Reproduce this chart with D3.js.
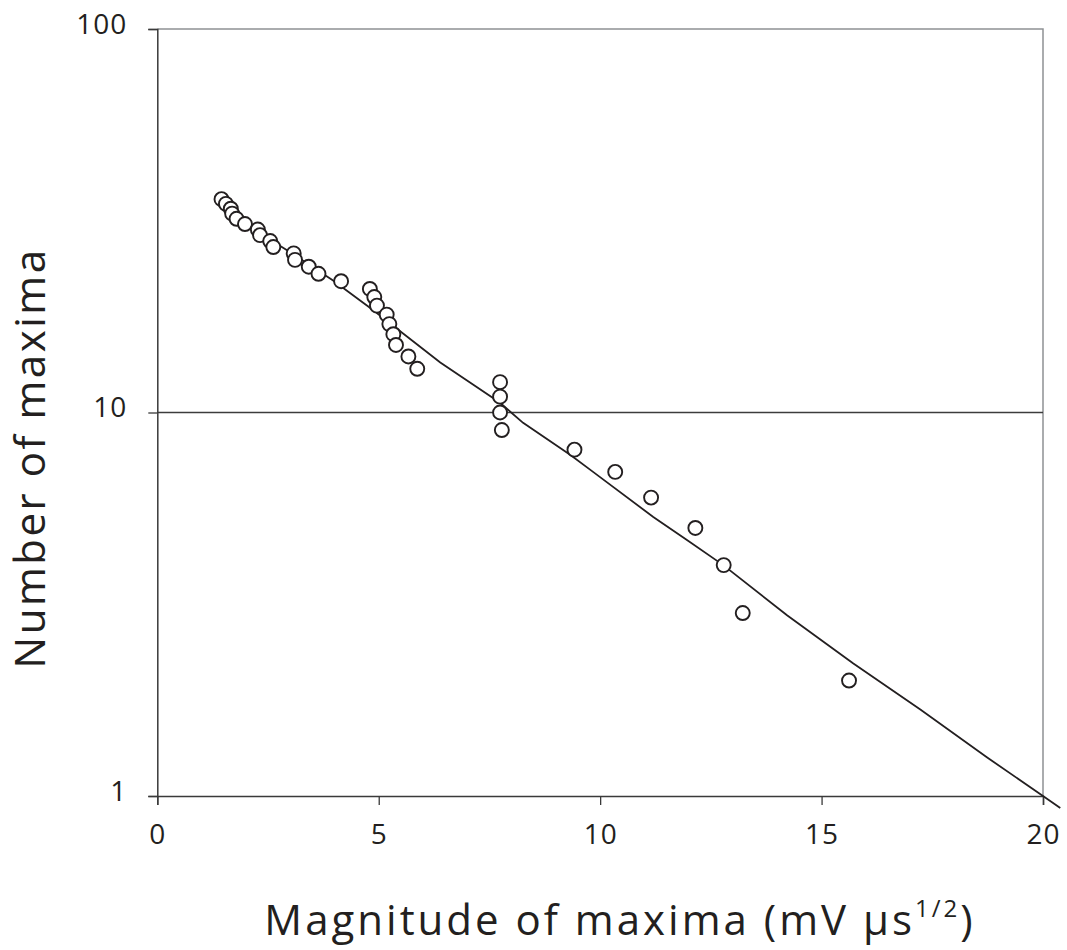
<!DOCTYPE html>
<html>
<head>
<meta charset="utf-8">
<script src="https://cdn.jsdelivr.net/npm/d3@7"></script>
<style>
  html, body { margin: 0; padding: 0; background: #fff; }
  svg { display: block; }
  text { font-family: "Open Sans", "Noto Sans", sans-serif; fill: #231f20; }
</style>
</head>
<body>
<svg id="chart" width="1067" height="950"></svg>
<script>
// Observed data points: magnitude of maxima (x) and cumulative number of maxima (y)
const pointMagnitude = [1.45, 1.55, 1.66, 1.69, 1.79, 1.98, 2.27, 2.32, 2.55, 2.62,
  3.08, 3.11, 3.42, 3.64, 4.15, 4.80, 4.90, 4.96, 5.18, 5.24, 5.33, 5.39, 5.67, 5.87,
  7.74, 7.74, 7.74, 7.78, 9.42, 10.34, 11.15, 12.15, 12.79, 13.22, 15.62];
const pointCount = [36, 35, 34, 33, 32, 31, 30, 29, 28, 27,
  26, 25, 24, 23, 22, 21, 20, 19, 18, 17, 16, 15, 14, 13,
  12, 11, 10, 9, 8, 7, 6, 5, 4, 3, 2];

// Fitted curve
const lineMagnitude = [1.46, 1.94, 2.93, 3.97, 4.87, 6.39, 7.74, 8.26, 9.33, 9.84, 11.2, 11.96, 12.78, 14.22, 15.71, 17.23, 18.74, 20.0, 20.39];
const lineCount = [35.8, 31.2, 26.5, 22.1, 18.5, 13.5, 10.6, 9.4, 7.75, 7.0, 5.34, 4.65, 4.0, 2.96, 2.22, 1.68, 1.26, 1.0, 0.93];

const xTicks = [0, 5, 10, 15, 20];
const yTicks = [1, 10, 100];
const xTitle = "Magnitude of maxima (mV \u03bcs";
const xTitleSup = "1/2";
const yTitle = "Number of maxima";

const svg = d3.select("#chart");
const mLeft = 157.3, mRight = 1043, mTop = 29, mBottom = 796;

const x = d3.scaleLinear().domain([0, 20]).range([mLeft, mRight]);
const y = d3.scaleLog().domain([1, 100]).range([mBottom, mTop]);

// frame top/right (gray)
svg.append("path")
  .attr("d", `M${mLeft},${mTop}H${mRight}V${mBottom}`)
  .attr("fill", "none").attr("stroke", "#8e9194").attr("stroke-width", 1.5);

// gridline at 10
svg.append("line")
  .attr("x1", mLeft).attr("x2", mRight)
  .attr("y1", y(10)).attr("y2", y(10))
  .attr("stroke", "#3c3c3c").attr("stroke-width", 1.3);

// axes
const xAxis = d3.axisBottom(x).tickValues(xTicks).tickSize(9).tickPadding(19).tickFormat(d3.format("d"));
const yAxis = d3.axisLeft(y).tickValues(yTicks).tickSize(9).tickPadding(21).tickFormat(d3.format("d"));

const gx = svg.append("g").attr("transform", `translate(0,${mBottom})`).call(xAxis);
const gy = svg.append("g").attr("transform", `translate(${mLeft},0)`).call(yAxis);
[gx, gy].forEach(g => {
  g.select(".domain").attr("stroke", "#3a3a3a").attr("stroke-width", 1.5);
  g.selectAll(".tick line").attr("stroke", "#3a3a3a").attr("stroke-width", 1.3);
  g.selectAll(".tick text")
    .attr("font-family", "'Open Sans', 'Noto Sans', sans-serif")
    .attr("font-size", 28).attr("fill", "#231f20")
    .attr("letter-spacing", 1);
});
gy.selectAll(".tick text").attr("dy", 4);
gx.selectAll(".tick text").attr("dy", "0.71em");

// fitted line
svg.append("path")
  .datum(lineMagnitude.map((m, i) => [m, lineCount[i]]))
  .attr("fill", "none").attr("stroke", "#231f20").attr("stroke-width", 1.8)
  .attr("d", d3.line().x(d => x(d[0])).y(d => y(d[1])));

// points
svg.append("g").selectAll("circle")
  .data(pointMagnitude.map((m, i) => [m, pointCount[i]]))
  .join("circle")
  .attr("cx", d => x(d[0])).attr("cy", d => y(d[1]))
  .attr("r", 7)
  .attr("fill", "#fff").attr("stroke", "#231f20").attr("stroke-width", 1.9);

// titles
const xt = svg.append("text")
  .attr("x", 620).attr("y", 935)
  .attr("text-anchor", "middle")
  .attr("font-size", 42)
  .attr("letter-spacing", 3);
xt.append("tspan").text(xTitle);
xt.append("tspan").attr("font-size", 24).attr("dy", -18).text(xTitleSup);
xt.append("tspan").attr("dy", 18).text(")");

svg.append("text")
  .attr("transform", `translate(45,458) rotate(-90)`)
  .attr("text-anchor", "middle")
  .attr("font-size", 42)
  .attr("letter-spacing", 2.5)
  .text(yTitle);
</script>
</body>
</html>
